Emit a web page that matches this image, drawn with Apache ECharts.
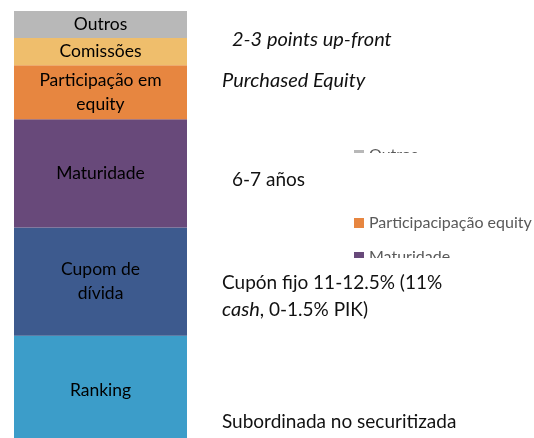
<!DOCTYPE html>
<html>
<head>
<meta charset="utf-8">
<script src="https://cdn.jsdelivr.net/npm/echarts@6/dist/echarts.min.js"></script>
<style>
  html, body { margin: 0; padding: 0; background: #fff; }
  #chart { width: 534px; height: 438px; }
</style>
</head>
<body>
<div id="chart"></div>
<script>
// stack from bottom to top
var seriesNames = ['Ranking', 'Cupom', 'Maturidade', 'Participacipação equity', 'Comissões', 'Outros'];
var barLabels = ['Ranking', 'Cupom de\ndívida', 'Maturidade', 'Participação em\nequity', 'Comissões', 'Outros'];
var seriesValues = [2, 2, 2, 1, 0.5, 0.5];
var colors = ['#3c9dc9', '#3d5a8e', '#68497a', '#e78640', '#efbe6c', '#b8b8b8'];
var legendOrder = ['Outros', 'Comissões', 'Participacipação equity', 'Maturidade', 'Cupom', 'Ranking'];

var font = 'Lato, "Open Sans", sans-serif';

var myChart = echarts.init(document.getElementById('chart'));

var series = seriesNames.map(function (name, i) {
    return {
        name: name,
        type: 'bar',
        stack: 'total',
        barWidth: '100%',
        data: [seriesValues[i]],
        itemStyle: {color: colors[i]},
        label: {
            show: true,
            position: 'inside',
            formatter: barLabels[i],
            color: '#000',
            fontFamily: font,
            fontSize: 17.5,
            lineHeight: 24
        },
        emphasis: {disabled: true}
    };
});

function note(x, y, text, italic) {
    return {
        type: 'text',
        x: x,
        y: y,
        z: 110,
        style: {
            text: text,
            fill: '#111',
            verticalAlign: 'middle',
            font: (italic ? 'italic 20px ' : '19px ') + font
        }
    };
}

myChart.setOption({
    animation: false,
    grid: {left: 14, top: 11, width: 173, height: 433, outerBoundsMode: 'none'},
    xAxis: {type: 'category', data: ['Mezzanine'], show: false},
    yAxis: {type: 'value', min: 0, max: 8, show: false},
    legend: {
        orient: 'vertical',
        left: 354,
        top: 147,
        padding: 0,
        itemWidth: 10,
        itemHeight: 10,
        itemGap: 18,
        icon: 'rect',
        data: legendOrder,
        textStyle: {color: '#595959', fontFamily: font, fontSize: 16}
    },
    graphic: [
        // white text boxes hiding most of the legend
        {type: 'rect', z: 100, shape: {x: 340, y: 153, width: 194, height: 58}, style: {fill: '#fff'}},
        {type: 'rect', z: 100, shape: {x: 340, y: 258, width: 194, height: 180}, style: {fill: '#fff'}},
        note(232, 40, '2-3 points up-front', true),
        note(222, 81, 'Purchased Equity', true),
        note(232, 180, '6-7 años', false),
        note(222, 283, 'Cupón fijo 11-12.5% (11%', false),
        {
            type: 'text',
            x: 222,
            y: 310,
            z: 110,
            style: {
                text: '{i|cash}, 0-1.5% PIK)',
                fill: '#111',
                verticalAlign: 'middle',
                font: '19px ' + font,
                rich: {i: {fontStyle: 'italic', fontFamily: 'Lato', fontSize: 20, fill: '#111'}}
            }
        },
        note(222, 422, 'Subordinada no securitizada', false)
    ],
    series: series
});
</script>
</body>
</html>
